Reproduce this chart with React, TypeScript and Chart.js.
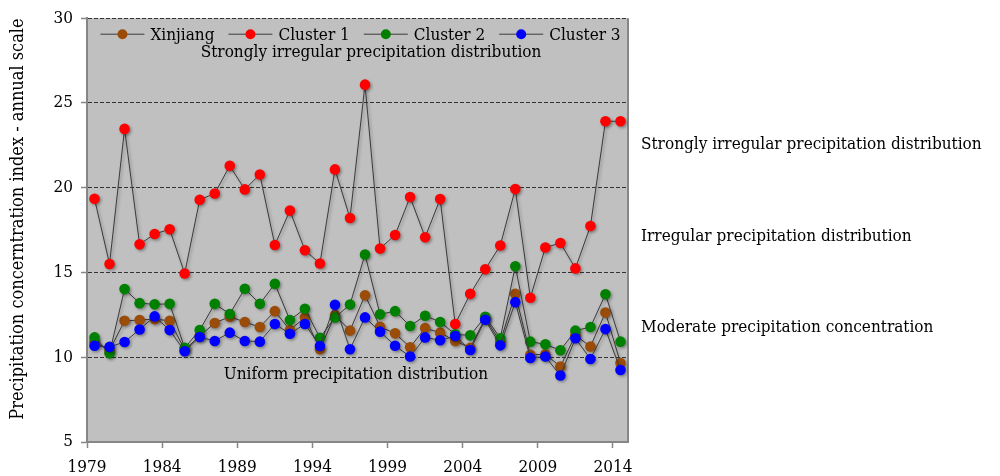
import React, { useEffect, useRef } from 'react';
import { Chart, registerables } from 'chart.js';

Chart.register(...registerables);

const years = [
  1979, 1980, 1981, 1982, 1983, 1984, 1985, 1986, 1987, 1988, 1989, 1990,
  1991, 1992, 1993, 1994, 1995, 1996, 1997, 1998, 1999, 2000, 2001, 2002,
  2003, 2004, 2005, 2006, 2007, 2008, 2009, 2010, 2011, 2012, 2013, 2014,
];
const xTickYears = [1979, 1984, 1989, 1994, 1999, 2004, 2009, 2014];
const yTickValues = [5, 10, 15, 20, 25, 30];

const xinjiang = [
  10.9, 10.4, 12.15, 12.19, 12.25, 12.15, 10.45, 11.25, 12.02, 12.39, 12.08, 11.78,
  12.72, 11.6, 12.35, 10.47, 12.49, 11.57, 13.66, 11.8, 11.41, 10.59, 11.72, 11.45,
  10.96, 10.55, 12.3, 10.9, 13.74, 10.15, 10.17, 9.45, 11.3, 10.63, 12.64, 9.66,
];
const cluster1 = [
  19.35, 15.5, 23.47, 16.66, 17.27, 17.55, 14.94, 19.29, 19.66, 21.29, 19.9, 20.78,
  16.62, 18.65, 16.31, 15.53, 21.08, 18.21, 26.08, 16.41, 17.21, 19.45, 17.08, 19.33,
  11.96, 13.74, 15.19, 16.59, 19.92, 13.51, 16.47, 16.74, 15.24, 17.74, 23.92, 23.92,
];
const cluster2 = [
  11.17, 10.23, 14.02, 13.19, 13.12, 13.15, 10.55, 11.6, 13.15, 12.55, 14.04, 13.15,
  14.33, 12.19, 12.86, 11.15, 12.35, 13.11, 16.06, 12.53, 12.72, 11.84, 12.45, 12.08,
  11.35, 11.29, 12.39, 11.12, 15.37, 10.92, 10.76, 10.41, 11.57, 11.78, 13.72, 10.92,
];
const cluster3 = [
  10.68, 10.61, 10.9, 11.64, 12.41, 11.6, 10.35, 11.19, 10.96, 11.45, 10.96, 10.92,
  11.96, 11.39, 11.96, 10.66, 13.09, 10.47, 12.35, 11.51, 10.68, 10.04, 11.17, 11.0,
  11.25, 10.43, 12.21, 10.7, 13.25, 9.96, 10.04, 8.92, 11.12, 9.9, 11.66, 9.25,
];

const seriesNames = ['Xinjiang', 'Cluster 1', 'Cluster 2', 'Cluster 3'];
const seriesValues = [xinjiang, cluster1, cluster2, cluster3];
const seriesColors = ['#9a4c08', '#ff0000', '#008000', '#0000ff'];

const yTitle = 'Precipitation concerntration index - annual scale';

// Annotation texts inside the plot (anchored at year / index value)
const insideLabels = [
  { text: 'Strongly irregular precipitation distribution', year: 1997.9, value: 27.95 },
  { text: 'Uniform precipitation distribution', year: 1996.9, value: 8.96 },
];
// Annotation texts to the right of the plot (anchored at index value)
const sideLabels = [
  { text: 'Strongly irregular precipitation distribution', value: 22.53 },
  { text: 'Irregular precipitation distribution', value: 17.12 },
  { text: 'Moderate precipitation concentration', value: 11.76 },
];

const FONT = "'DejaVu Serif Condensed', 'DejaVu Serif', serif";
const TEXT_SIZE = 17;
const TITLE_SIZE = 18;
const TICK_SIZE = 17;
const LINE_COLOR = '#3a3a3a';
const AXIS_COLOR = '#868686';
const PLOT_BG = '#c0c0c0';

const bgPlugin = {
  id: 'plotBg',
  beforeDraw(chart: any) {
    const { ctx, chartArea } = chart;
    ctx.save();
    ctx.fillStyle = PLOT_BG;
    ctx.fillRect(chartArea.left, chartArea.top, chartArea.right - chartArea.left, chartArea.bottom - chartArea.top);
    ctx.restore();
  },
  beforeDatasetsDraw(chart: any) {
    const { ctx, chartArea, scales } = chart;
    ctx.save();
    ctx.strokeStyle = AXIS_COLOR;
    ctx.lineWidth = 2;
    ctx.beginPath();
    ctx.moveTo(chartArea.right, chartArea.top);
    ctx.lineTo(chartArea.right, chartArea.bottom);
    ctx.stroke();
    ctx.font = `${TEXT_SIZE}px ${FONT}`;
    ctx.fillStyle = '#000';
    ctx.textAlign = 'center';
    ctx.textBaseline = 'middle';
    insideLabels.forEach((l) => {
      ctx.fillText(l.text, scales.x.getPixelForValue(l.year), scales.y.getPixelForValue(l.value));
    });
    ctx.restore();
  },
  afterDraw(chart: any) {
    const { ctx, chartArea, scales } = chart;
    ctx.save();
    ctx.font = `${TEXT_SIZE}px ${FONT}`;
    ctx.fillStyle = '#000';
    ctx.textAlign = 'left';
    ctx.textBaseline = 'middle';
    sideLabels.forEach((l) => {
      ctx.fillText(l.text, chartArea.right + 13, scales.y.getPixelForValue(l.value));
    });
    // y-axis title
    ctx.translate(18, (chartArea.top + chartArea.bottom) / 2 - 11);
    ctx.rotate(-Math.PI / 2);
    ctx.textAlign = 'center';
    ctx.font = `${TITLE_SIZE}px ${FONT}`;
    ctx.fillText(yTitle, 0, 0);
    ctx.restore();
  },
};

const shadowPlugin = {
  id: 'markerShadow',
  beforeDatasetDraw(chart: any) {
    const ctx = chart.ctx;
    ctx.save();
    ctx.shadowColor = 'rgba(0,0,0,0.35)';
    ctx.shadowBlur = 3;
    ctx.shadowOffsetX = 1.5;
    ctx.shadowOffsetY = 1.5;
  },
  afterDatasetDraw(chart: any) {
    chart.ctx.restore();
  },
};

const legendPlugin = {
  id: 'lineLegend',
  afterDatasetsDraw(chart: any) {
    const { ctx, chartArea } = chart;
    ctx.save();
    ctx.font = `${TEXT_SIZE}px ${FONT}`;
    const lineLen = 44;
    const gapText = 6;
    const gapItem = 14;
    const widths = seriesNames.map((n) => ctx.measureText(n).width);
    const total =
      widths.reduce((a, w) => a + lineLen + gapText + w, 0) + gapItem * (seriesNames.length - 1);
    let x = (chartArea.left + chartArea.right) / 2 - total / 2 + 3;
    const y = chartArea.top + 16;
    seriesNames.forEach((n, i) => {
      ctx.strokeStyle = LINE_COLOR;
      ctx.lineWidth = 1;
      ctx.beginPath();
      ctx.moveTo(x, y);
      ctx.lineTo(x + lineLen, y);
      ctx.stroke();
      ctx.fillStyle = seriesColors[i];
      ctx.beginPath();
      ctx.arc(x + lineLen / 2, y, 5, 0, Math.PI * 2);
      ctx.fill();
      ctx.fillStyle = '#000';
      ctx.textBaseline = 'middle';
      ctx.textAlign = 'left';
      ctx.fillText(n, x + lineLen + gapText, y + 1);
      x += lineLen + gapText + widths[i] + gapItem;
    });
    ctx.restore();
  },
};

export default function App() {
  const canvasRef = useRef<HTMLCanvasElement | null>(null);

  useEffect(() => {
    if (!canvasRef.current) return;
    const datasets = seriesNames.map((name, si) => ({
      label: name,
      data: years.map((yr, i) => ({ x: yr + 0.5, y: seriesValues[si][i] })),
      borderColor: LINE_COLOR,
      borderWidth: 1,
      pointRadius: 5.3,
      pointBorderWidth: 0,
      pointBackgroundColor: seriesColors[si],
      pointBorderColor: seriesColors[si],
      tension: 0,
      fill: false,
      order: seriesNames.length - si,
    }));

    const chart = new Chart(canvasRef.current, {
      type: 'line',
      data: { datasets },
      plugins: [bgPlugin, shadowPlugin, legendPlugin],
      options: {
        responsive: false,
        animation: false,
        layout: { padding: { top: 17, right: 372, left: 0, bottom: 0 } },
        plugins: {
          legend: { display: false },
          tooltip: { enabled: false },
          title: { display: false },
        },
        scales: {
          x: {
            type: 'linear',
            min: 1979,
            max: 2015,
            afterBuildTicks: (s: any) => {
              s.ticks = xTickYears.map((v) => ({ value: v }));
            },
            afterFit: (s: any) => {
              s.height = 34;
            },
            ticks: {
              color: '#000',
              font: { family: FONT, size: TICK_SIZE },
              padding: 9,
              maxRotation: 0,
              autoSkip: false,
              callback: (v: any) => String(v),
            },
            grid: {
              drawOnChartArea: false,
              drawTicks: true,
              tickLength: 6,
              tickColor: AXIS_COLOR,
              tickWidth: 1.5,
            },
            border: { display: true, color: AXIS_COLOR, width: 2 },
          },
          y: {
            min: 5,
            max: 30,
            afterBuildTicks: (s: any) => {
              s.ticks = yTickValues.map((v) => ({ value: v }));
            },
            afterFit: (s: any) => {
              s.width = 87;
            },
            ticks: {
              color: '#000',
              font: { family: FONT, size: TICK_SIZE },
              padding: 8,
              callback: (v: any) => String(v),
            },
            grid: {
              color: (c: any) => (c.tick && c.tick.value === 5 ? 'rgba(0,0,0,0)' : '#333333'),
              lineWidth: 1,
              drawTicks: true,
              tickLength: 6,
              tickColor: AXIS_COLOR,
              tickWidth: 1.5,
              tickBorderDash: [],
            },
            border: { display: true, color: AXIS_COLOR, width: 2, dash: [4, 2] },
            title: { display: false },
          },
        },
      },
    } as any);
    return () => chart.destroy();
  }, []);

  return (
    <div style={{ position: 'fixed', left: 0, top: 0, width: 1000, height: 476, background: '#fff' }}>
      <canvas ref={canvasRef} width={1000} height={476} />
    </div>
  );
}
